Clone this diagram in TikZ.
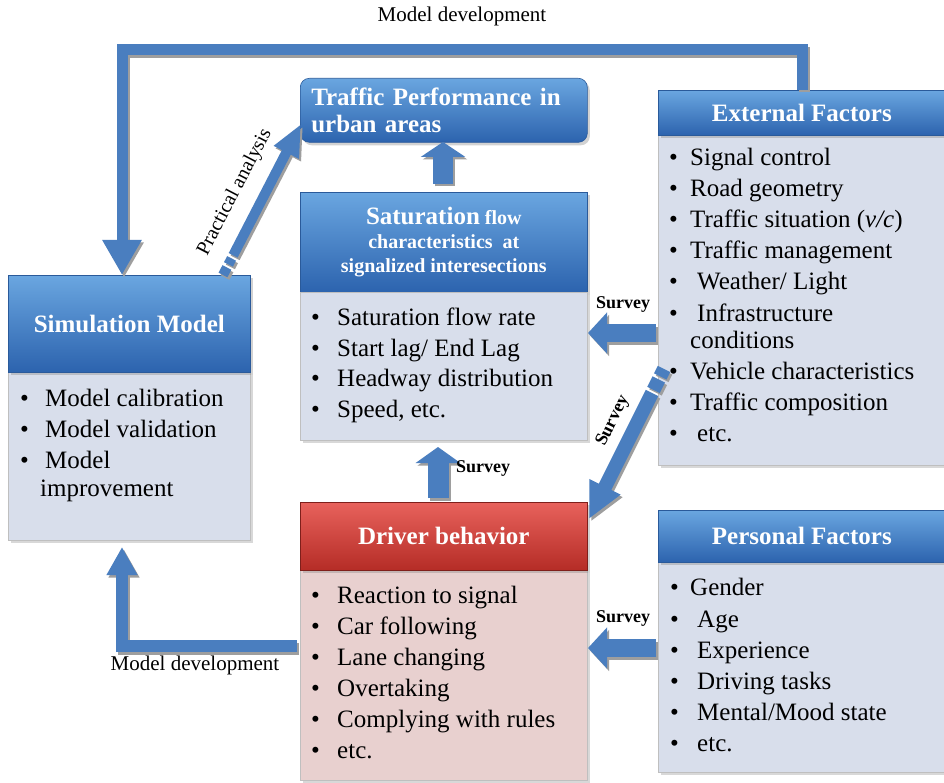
\documentclass[tikz,border=0pt]{standalone}
\usepackage{fontspec}
\setmainfont{Liberation Serif}
\usetikzlibrary{arrows.meta,calc,shadows}
\definecolor{arrblue}{HTML}{4A7EBF}
\definecolor{hdtop}{HTML}{6AA6E0}
\definecolor{hdbot}{HTML}{2C63AE}
\definecolor{hdline}{HTML}{2A5A9A}
\definecolor{lstfill}{HTML}{D8DEEB}
\definecolor{redtop}{HTML}{E8625C}
\definecolor{redbot}{HTML}{B52C26}
\definecolor{pinkfill}{HTML}{E8D0CF}
\tikzset{
  hdr/.style={draw=hdline, line width=0.6pt, top color=hdtop, bottom color=hdbot,
    anchor=north west, inner sep=0pt, text=white,
    font=\fontsize{25}{27}\selectfont\bfseries,
    drop shadow={shadow xshift=2.5pt, shadow yshift=-3pt, opacity=0.35}},
  redhdr/.style={hdr, draw=redbot!70!black, top color=redtop, bottom color=redbot},
  lst/.style={draw=black!25, line width=0.5pt, fill=lstfill, anchor=north west, inner sep=0pt,
    drop shadow={shadow xshift=2.5pt, shadow yshift=-3pt, opacity=0.3}},
  itm/.style={anchor=base west, inner sep=0pt, font=\fontsize{25}{30}\selectfont, text=black},
  lbl/.style={inner sep=0pt, font=\fontsize{21}{24}\selectfont},
  svy/.style={inner sep=0pt, font=\fontsize{18}{20}\selectfont\bfseries},
  arr/.style={draw=arrblue, line join=miter},
  ash/.style={draw=black!38, line join=miter, transform canvas={shift={(2pt,-2.5pt)}}}
}
\newcommand\sarrow[2]{\draw[ash,#1]#2;\draw[arr,#1]#2;}
\begin{document}
\begin{tikzpicture}[x=1pt,y=-1pt]
\useasboundingbox[fill=white] (0,0) rectangle (944,783);

% ---------- boxes ----------
\node[hdr, rounded corners=9pt, minimum width=287pt, minimum height=64pt,
      text width=265pt, inner xsep=11pt, align=left] (tp) at (300,78)
      {Traffic Performance in\\urban areas};
\node[hdr, minimum width=287pt, minimum height=100pt, align=center,
      font=\fontsize{20}{24}\selectfont\bfseries] (sath) at (300,192)
      {{\fontsize{25}{24}\selectfont Saturation} flow\\characteristics\ \ at\\signalized interesections};
\node[lst, minimum width=287pt, minimum height=148pt] (satl) at (300,292) {};

\node[lst, minimum width=287pt, minimum height=330pt] (extl) at (658,135) {};
\node[hdr, minimum width=287pt, minimum height=45pt] (exth) at (658,90) {External Factors};

\node[lst, minimum width=242pt, minimum height=168pt] (siml) at (8,372) {};
\node[hdr, minimum width=242pt, minimum height=97pt] (simh) at (8,275) {Simulation Model};

\node[lst, fill=pinkfill, minimum width=287pt, minimum height=210pt] (drvl) at (300,570) {};
\node[redhdr, minimum width=287pt, minimum height=68pt] (drvh) at (300,502) {Driver behavior};

\node[lst, minimum width=287pt, minimum height=210pt] (perl) at (658,562) {};
\node[hdr, minimum width=287pt, minimum height=52pt] (perh) at (658,510) {Personal Factors};

% ---------- list texts ----------
\foreach \y [count=\i] in {325,356,386,417}
  \node[itm] (sb\i) at (311,\y) {\textbullet};
\foreach \t/\y [count=\i] in {{Saturation flow rate}/325,{Start lag/ End Lag}/356,
    {Headway distribution}/386,{Speed, etc.}/417}
  \node[itm] (st\i) at (337,\y) {\t};

\foreach \y [count=\i] in {166,197,228,259,290,321,379,410,441}
  \node[itm] (eb\i) at (669,\y) {\textbullet};
\foreach \x/\y/\t [count=\i] in {690/166/{Signal control},690/197/{Road geometry},
    690/228/{Traffic situation (\textit{v/c})},690/259/{Traffic management},
    697/290/{Weather/ Light},697/321/{Infrastructure},690/348/{conditions},
    690/379/{Vehicle characteristics},690/410/{Traffic composition},697/441/{etc.}}
  \node[itm] (et\i) at (\x,\y) {\t};

\foreach \y [count=\i] in {406,437,468}
  \node[itm] (mb\i) at (20,\y) {\textbullet};
\foreach \x/\y/\t [count=\i] in {45/406/{Model calibration},45/437/{Model validation},
    45/468/{Model},40/496/{improvement}}
  \node[itm] (mt\i) at (\x,\y) {\t};

\foreach \y [count=\i] in {603,634,665,696,727,758}
  \node[itm] (db\i) at (311,\y) {\textbullet};
\foreach \t/\y [count=\i] in {{Reaction to signal}/603,{Car following}/634,
    {Lane changing}/665,{Overtaking}/696,{Complying with rules}/727,{etc.}/758}
  \node[itm] (dt\i) at (337,\y) {\t};

\foreach \y [count=\i] in {595,627,658,689,720,751}
  \node[itm] (pb\i) at (670,\y) {\textbullet};
\foreach \x/\y/\t [count=\i] in {690/595/{Gender},697/627/{Age},697/658/{Experience},
    697/689/{Driving tasks},697/720/{Mental/Mood state},697/751/{etc.}}
  \node[itm] (pt\i) at (\x,\y) {\t};

% ---------- coordinates ----------
\coordinate (t0) at (802,90);
\coordinate (t1) at (802,50);
\coordinate (t2) at (122,50);
\coordinate (t3) at (122,275);
\coordinate (pa0) at (223,275);
\coordinate (pa1) at (301,124);
\coordinate (up0) at (443,184);
\coordinate (up1) at (443,142);
\coordinate (s1a) at (656,333);
\coordinate (s1b) at (588,333);
\coordinate (sv0) at (438,498);
\coordinate (sv1) at (438,447);
\coordinate (d0) at (664,369);
\coordinate (d1) at (589,519);
\coordinate (s2a) at (656,648);
\coordinate (s2b) at (588,648);
\coordinate (m0) at (297,646);
\coordinate (m1) at (122,646);
\coordinate (m2) at (122,547);

% ---------- arrows ----------
\sarrow{line width=11pt,-{Triangle[width=37pt,length=35pt]}}{(t0) -- (t1) -- (t2) -- (t3)}
\sarrow{line width=10pt}{($(pa0)!0!(pa1)$) -- ($(pa0)!0.05!(pa1)$)}
\sarrow{line width=10pt}{($(pa0)!0.07!(pa1)$) -- ($(pa0)!0.11!(pa1)$)}
\sarrow{line width=10pt,-{Triangle[width=26pt,length=32pt]}}{($(pa0)!0.13!(pa1)$) -- (pa1)}
\sarrow{line width=20pt,-{Triangle[width=44pt,length=15pt]}}{(up0) -- (up1)}
\sarrow{line width=18pt,-{Triangle[width=40pt,length=19pt]}}{(s1a) -- (s1b)}
\sarrow{line width=21pt,-{Triangle[width=44pt,length=16pt]}}{(sv0) -- (sv1)}
\sarrow{line width=14pt}{($(d0)!0!(d1)$) -- ($(d0)!0.05!(d1)$)}
\sarrow{line width=14pt}{($(d0)!0.07!(d1)$) -- ($(d0)!0.14!(d1)$)}
\sarrow{line width=14pt,-{Triangle[width=32pt,length=36pt]}}{($(d0)!0.16!(d1)$) -- (d1)}
\sarrow{line width=18pt,-{Triangle[width=40pt,length=19pt]}}{(s2a) -- (s2b)}
\sarrow{line width=12pt,-{Triangle[width=29pt,length=28pt]}}{(m0) -- (m1) -- (m2)}

% ---------- labels ----------
\node[lbl] (mdtop) at (462,16) {Model development};
\node[lbl] (mdbot) at (195,665) {Model development};
\node[lbl, font=\fontsize{20}{22}\selectfont, rotate=62.5] (pal) at (235,192) {Practical analysis};
\node[svy] (sv1l) at (623,304) {Survey};
\node[svy] (sv2l) at (483,468) {Survey};
\node[svy] (sv3l) at (623,618) {Survey};
\node[svy, rotate=63.5] (sv4l) at (613,421) {Survey};
\end{tikzpicture}
\end{document}
